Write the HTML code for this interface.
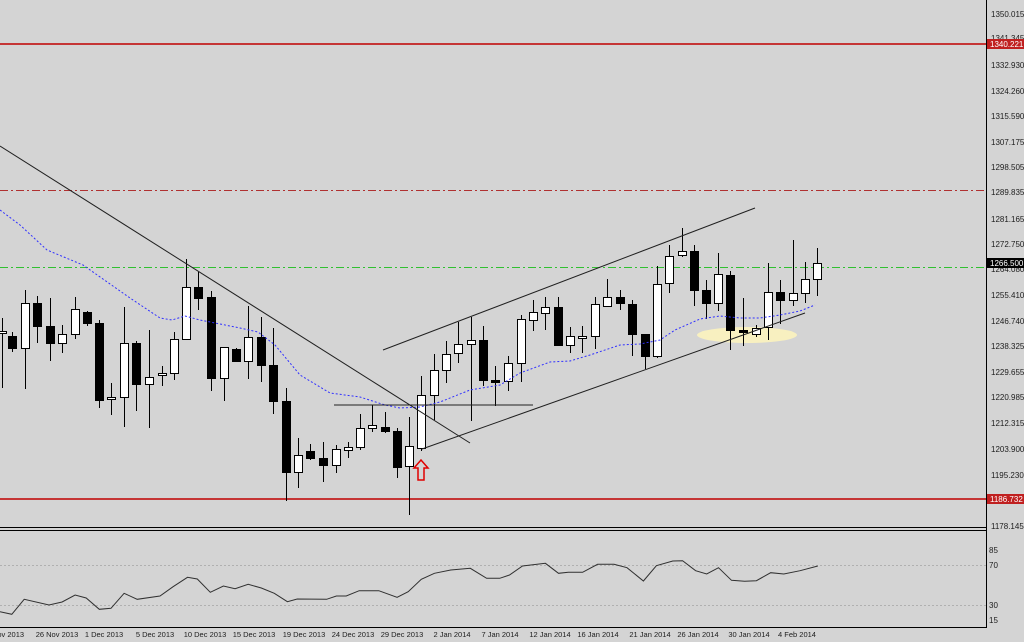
<!DOCTYPE html>
<html><head><meta charset="utf-8"><style>
html,body{margin:0;padding:0;background:#d4d4d4;}
svg{display:block;font-family:"Liberation Sans",sans-serif;}
</style></head><body>
<svg id="s" width="1024" height="642" viewBox="0 0 1024 642" xmlns="http://www.w3.org/2000/svg">
<rect width="1024" height="642" fill="#d4d4d4"/>
<line x1="0" y1="44" x2="986" y2="44" stroke="#c00000" stroke-width="1.5"/>
<line x1="0" y1="499" x2="986" y2="499" stroke="#c00000" stroke-width="1.5"/>
<line x1="0" y1="190.5" x2="986" y2="190.5" stroke="#b03030" stroke-dasharray="8,3,2,3"/>
<line x1="0" y1="267.5" x2="986" y2="267.5" stroke="#30c030" stroke-dasharray="8,3,2,3"/>
<ellipse cx="747" cy="335" rx="50" ry="8" fill="#f8f0c0"/>
<g id="cand"></g>
<polyline fill="none" stroke="#3030ff" stroke-width="1" stroke-dasharray="2,2" points="0,210 20,225 47,250 83,265 130,298 160,318 172,320 185,316 200,320 215,323 240,328 258,332 275,345 300,375 330,393 360,397 385,405 400,408 420,407 440,402 470,390 500,385 520,373 550,362 570,361 590,355 620,345 640,344 650,342 660,340 675,330 700,319 720,316 740,318 760,318 780,315 800,311 815,305"/>
<g stroke="#202020" stroke-width="1" fill="none">
<line x1="0" y1="146" x2="470" y2="443"/>
<line x1="383" y1="350" x2="755" y2="208"/>
<line x1="422" y1="449" x2="805" y2="313"/>
<line x1="334" y1="405" x2="533" y2="405"/>
</g>
<path d="M421,460 L428,468 L424,468 L424,480 L418,480 L418,468 L414,468 Z" fill="none" stroke="#e00000" stroke-width="1.5"/>
<!-- panel separators -->
<line x1="0" y1="527.5" x2="986" y2="527.5" stroke="#000"/>
<line x1="0" y1="530.5" x2="986" y2="530.5" stroke="#000"/>
<line x1="0" y1="627.5" x2="986" y2="627.5" stroke="#000"/>
<line x1="986.5" y1="0" x2="986.5" y2="628" stroke="#000"/>
<line x1="0" y1="565.5" x2="986" y2="565.5" stroke="#b0b0b0" stroke-dasharray="2,2"/>
<line x1="0" y1="605.5" x2="986" y2="605.5" stroke="#b0b0b0" stroke-dasharray="2,2"/>
<polyline id="osc" fill="none" stroke="#303030" stroke-width="1"/>
<g font-size="8" fill="#202020">
<text x="991" y="17">1350.015</text>
<text x="991" y="41">1341.345</text>
<text x="991" y="68">1332.930</text>
<text x="991" y="94">1324.260</text>
<text x="991" y="119">1315.590</text>
<text x="991" y="145">1307.175</text>
<text x="991" y="170">1298.505</text>
<text x="991" y="195">1289.835</text>
<text x="991" y="222">1281.165</text>
<text x="991" y="247">1272.750</text>
<text x="991" y="272">1264.080</text>
<text x="991" y="298">1255.410</text>
<text x="991" y="324">1246.740</text>
<text x="991" y="349">1238.325</text>
<text x="991" y="375">1229.655</text>
<text x="991" y="400">1220.985</text>
<text x="991" y="426">1212.315</text>
<text x="991" y="452">1203.900</text>
<text x="991" y="478">1195.230</text>
<text x="991" y="529">1178.145</text>
<text x="989" y="553">85</text>
<text x="989" y="568">70</text>
<text x="989" y="608">30</text>
<text x="989" y="623">15</text>
</g>
<rect x="987" y="39" width="37" height="10" fill="#c02020"/>
<text x="990" y="47" font-size="8" fill="#fff">1340.221</text>
<rect x="987" y="258" width="37" height="10" fill="#000"/>
<text x="990" y="266" font-size="8" fill="#fff">1266.500</text>
<rect x="987" y="494" width="37" height="10" fill="#c02020"/>
<text x="990" y="502" font-size="8" fill="#fff">1186.732</text>
<g font-size="7.5" fill="#202020" text-anchor="middle">
<text x="8" y="637">Nov 2013</text>
<text x="57" y="637">26 Nov 2013</text>
<text x="104" y="637">1 Dec 2013</text>
<text x="155" y="637">5 Dec 2013</text>
<text x="205" y="637">10 Dec 2013</text>
<text x="254" y="637">15 Dec 2013</text>
<text x="304" y="637">19 Dec 2013</text>
<text x="353" y="637">24 Dec 2013</text>
<text x="402" y="637">29 Dec 2013</text>
<text x="452" y="637">2 Jan 2014</text>
<text x="500" y="637">7 Jan 2014</text>
<text x="550" y="637">12 Jan 2014</text>
<text x="598" y="637">16 Jan 2014</text>
<text x="650" y="637">21 Jan 2014</text>
<text x="698" y="637">26 Jan 2014</text>
<text x="749" y="637">30 Jan 2014</text>
<text x="797" y="637">4 Feb 2014</text>
</g>
</svg>
<script>
var C=[[2,'w',331,333,318,388],[12,'b',336,348,332,352],[25,'w',303,348,290,389],[37,'b',303,326,296,343],[50,'b',326,343,298,361],[62,'w',334,343,325,353],[75,'w',309,334,297,339],[87,'b',312,323,311,326],[99,'b',323,400,320,408],[111,'w',397,399,383,415],[124,'w',343,397,307,427],[136,'b',343,384,341,411],[149,'w',377,384,330,428],[162,'w',373,373,366,386],[174,'w',339,373,332,380],[186,'w',287,339,259,339],[198,'b',287,298,272,310],[211,'b',297,378,291,391],[224,'w',347,378,347,401],[236,'b',349,361,348,361],[248,'w',337,361,306,379],[261,'b',337,365,317,382],[273,'b',365,401,328,414],[286,'b',401,472,388,501],[298,'w',455,472,438,488],[310,'b',451,458,444,460],[323,'b',458,465,442,482],[336,'w',449,465,445,473],[348,'w',447,450,442,458],[360,'w',428,447,414,450],[372,'w',425,428,405,432],[385,'b',427,431,412,433],[397,'b',431,467,428,478],[409,'w',446,466,417,515],[421,'w',395,448,376,451],[434,'w',370,395,354,420],[446,'w',354,370,341,383],[458,'w',344,353,322,363],[471,'w',340,344,317,421],[483,'b',340,380,326,386],[495,'b',380,382,366,406],[508,'w',363,381,356,391],[521,'w',319,363,315,382],[533,'w',312,320,300,331],[545,'w',307,313,297,330],[558,'b',307,345,297,346],[570,'w',336,345,327,353],[582,'w',336,336,326,353],[595,'w',304,336,297,349],[607,'w',297,306,279,307],[620,'b',297,303,290,310],[632,'b',304,334,300,356],[645,'b',334,356,334,369],[657,'w',284,356,266,358],[669,'w',256,283,245,293],[682,'w',251,255,228,257],[694,'b',251,290,245,306],[706,'b',290,303,280,319],[718,'w',274,303,253,311],[730,'b',275,330,271,350],[743,'b',330,331,298,346],[756,'w',328,334,325,337],[768,'w',292,327,263,340],[780,'b',292,300,280,324],[793,'w',293,300,240,306],[805,'w',279,293,262,303],[817,'w',263,279,248,296]];
var g=document.getElementById('cand'),h='';
C.forEach(function(c){var x=c[0];h+='<line x1="'+(x+.5)+'" y1="'+c[4]+'" x2="'+(x+.5)+'" y2="'+c[5]+'" stroke="#000"/>';
var t=c[2],b=c[3];if(b-t<2){b=t+2;}
h+='<rect x="'+(x-3.5)+'" y="'+(t+.5)+'" width="8" height="'+(b-t)+'" fill="'+(c[1]=='w'?'#fff':'#000')+'" stroke="#000" stroke-width="1"/>';});
g.innerHTML=h;
var P=[[0,275],[18,283],[37,238],[75,255],[95,246],[115,225],[132,234],[152,268],[170,265],[190,220],[210,238],[245,228],[265,200],[287,172],[302,177],[322,217],[342,198],[360,206],[380,193],[400,204],[420,220],[440,245],[455,237],[500,238],[515,228],[530,228],[550,212],[580,212],[608,232],[625,215],[645,178],[665,160],[690,150],[720,145],[745,175],[765,175],[780,165],[800,138],[835,130],[855,160],[870,157],[892,157],[915,133],[940,133],[960,143],[985,183],[1005,137],[1030,123],[1045,122],[1065,152],[1082,162],[1100,143],[1120,181],[1140,184],[1158,182],[1180,158],[1200,162],[1225,152],[1252,138]];
document.getElementById('osc').setAttribute('points',P.map(function(p){return (p[0]/1.531).toFixed(1)+','+(p[1]/3+520).toFixed(1)}).join(' '));
</script>
</body></html>
